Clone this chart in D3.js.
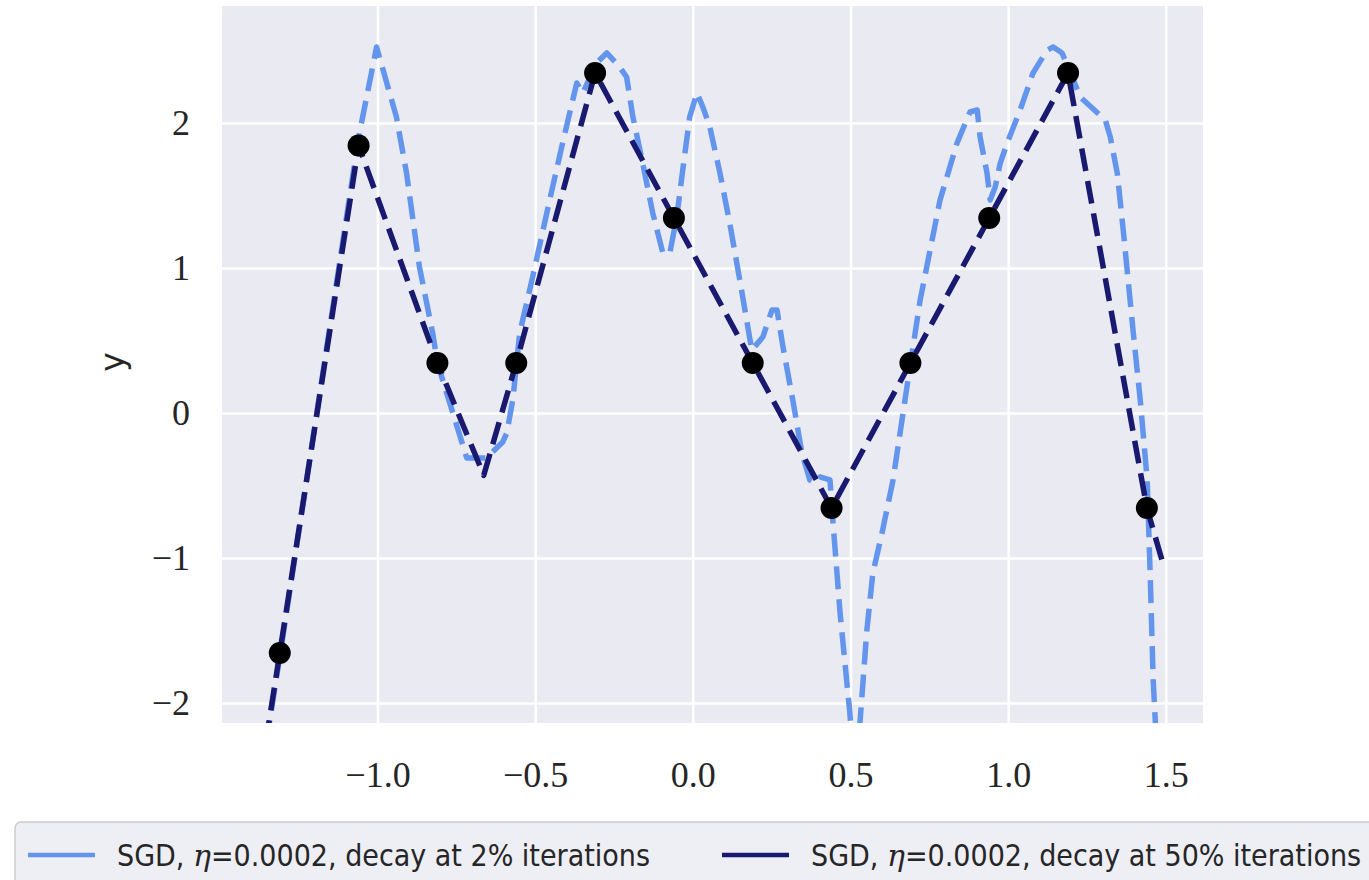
<!DOCTYPE html>
<html>
<head>
<meta charset="utf-8">
<script src="https://cdnjs.cloudflare.com/ajax/libs/d3/7.8.5/d3.min.js"></script>
<style>
  body { margin: 0; background: #fff; }
  .tick text { font-family: "Liberation Serif", "DejaVu Serif", serif; font-size: 36px; fill: #262626; }
  .legend text { font-family: "DejaVu Sans Condensed", "DejaVu Sans", sans-serif; font-stretch: condensed; font-size: 30px; fill: #262626; }
</style>
</head>
<body>
<svg id="chart"></svg>
<script>
// training points
var pointX = [-1.31, -1.06, -0.81, -0.56, -0.31, -0.06, 0.19, 0.44, 0.69, 0.94, 1.19, 1.44];
var pointY = [-1.655, 1.845, 0.345, 0.345, 2.345, 1.345, 0.345, -0.655, 0.345, 1.345, 2.345, -0.655];

// SGD, decay at 2% iterations
var lightX = [-1.5, -1.308, -1.06, -1.003, -0.94, -0.908, -0.867, -0.825, -0.81, -0.717, -0.654, -0.603, -0.59, -0.571,
  -0.549, -0.508, -0.454, -0.413, -0.368, -0.349, -0.305, -0.273, -0.232, -0.21, -0.19, -0.159, -0.127, -0.095,
  -0.073, -0.051, -0.032, -0.01, 0.013, 0.032, 0.054, 0.086, 0.117, 0.149, 0.187, 0.222, 0.251, 0.267, 0.286,
  0.317, 0.346, 0.371, 0.387, 0.403, 0.435, 0.444, 0.467, 0.498, 0.514, 0.53, 0.552, 0.571, 0.6, 0.635, 0.679,
  0.721, 0.784, 0.838, 0.879, 0.902, 0.911, 0.933, 0.943, 0.959, 0.975, 0.997, 1.038, 1.079, 1.124, 1.143, 1.171,
  1.229, 1.308, 1.324, 1.346, 1.365, 1.397, 1.419, 1.441, 1.451, 1.46, 1.467, 1.49];
var lightY = [-4.3, -1.655, 1.9, 2.524, 2.041, 1.655, 1.007, 0.552, 0.345, -0.31, -0.31, -0.2, -0.138, 0.09,
  0.552, 0.938, 1.469, 1.862, 2.276, 2.207, 2.414, 2.483, 2.386, 2.317, 2.041, 1.724, 1.379, 1.103,
  1.103, 1.352, 1.676, 2.041, 2.207, 2.11, 1.972, 1.655, 1.31, 0.917, 0.434, 0.524, 0.71, 0.71, 0.455,
  0.09, -0.276, -0.462, -0.483, -0.441, -0.462, -0.738, -1.379, -2.069, -2.53, -2.138, -1.497, -1.103, -0.828, -0.462, 0.179,
  0.779, 1.469, 1.862, 2.076, 2.09, 1.903, 1.655, 1.469, 1.559, 1.724, 1.862, 2.09, 2.345, 2.503, 2.524, 2.483,
  2.179, 2.021, 1.903, 1.655, 1.262, 0.552, 0.09, -0.462, -1.152, -1.841, -2.138, -3.6];

// SGD, decay at 50% iterations
var darkX = [-1.5, -1.31, -1.06, -0.81, -0.663, -0.56, -0.31, -0.06, 0.19, 0.44, 0.69, 0.94, 1.19, 1.44, 1.49];
var darkY = [-4.3, -1.655, 1.845, 0.345, -0.43, 0.345, 2.345, 1.345, 0.345, -0.655, 0.345, 1.345, 2.345, -0.655, -1.03];

var xTicks = [-1.0, -0.5, 0.0, 0.5, 1.0, 1.5];
var yTicks = [-2, -1, 0, 1, 2];
var legendLabels = ["SGD, ", "=0.0002, decay at 2% iterations", "=0.0002, decay at 50% iterations"];

var width = 1369, height = 880;
var plotLeft = 222, plotRight = 1203, plotTop = 6, plotBottom = 723;

var chart = d3.select("#chart").attr("width", width).attr("height", height);

var xscale = d3.scaleLinear().domain([-1.4932, 1.6180]).range([plotLeft, plotRight]);
var yscale = d3.scaleLinear().domain([2.807, -2.138]).range([plotTop, plotBottom]);

chart.append("rect")
    .attr("x", plotLeft).attr("y", plotTop)
    .attr("width", plotRight - plotLeft).attr("height", plotBottom - plotTop)
    .style("fill", "#eaeaf2");

chart.append("clipPath").attr("id", "clip")
  .append("rect")
    .attr("x", plotLeft).attr("y", plotTop)
    .attr("width", plotRight - plotLeft).attr("height", plotBottom - plotTop);

chart.append("g")
    .attr("transform", "translate(0," + plotBottom + ")")
    .call(d3.axisBottom(xscale).tickValues(xTicks)
      .tickSize(-(plotBottom - plotTop)).tickPadding(38)
      .tickFormat(function(d) { return d3.format(".1f")(d).replace("-", "\u2212"); }));

chart.append("g")
    .attr("transform", "translate(" + plotLeft + ",0)")
    .call(d3.axisLeft(yscale).tickValues(yTicks)
      .tickSize(-(plotRight - plotLeft)).tickPadding(32)
      .tickFormat(function(d) { return String(d).replace("-", "\u2212"); }));

chart.selectAll(".domain").remove();
chart.selectAll(".tick line").style("stroke", "#fff").style("stroke-width", 2.5);

chart.append("text")
    .attr("transform", "translate(124,362) rotate(-90)")
    .attr("text-anchor", "middle")
    .style("font-family", "DejaVu Sans, sans-serif")
    .style("font-size", "33px")
    .style("fill", "#262626")
    .text("y");

function toPoints(xs, ys) {
  return xs.map(function(x, i) { return { x: x, y: ys[i] }; });
}

var line = d3.line()
    .x(function(d) { return xscale(d.x); })
    .y(function(d) { return yscale(d.y); });

var lines = chart.append("g").attr("clip-path", "url(#clip)");

lines.append("path")
    .datum(toPoints(lightX, lightY))
    .attr("d", line)
    .style("fill", "none")
    .style("stroke", "#6495ed")
    .style("stroke-width", 5.5)
    .style("stroke-linejoin", "round")
    .style("stroke-dasharray", "23,10");

lines.append("path")
    .datum(toPoints(darkX, darkY))
    .attr("d", line)
    .style("fill", "none")
    .style("stroke", "#191970")
    .style("stroke-width", 5.5)
    .style("stroke-linejoin", "round")
    .style("stroke-dasharray", "23,10");

chart.append("g").selectAll("circle")
    .data(toPoints(pointX, pointY))
    .enter().append("circle")
    .attr("cx", function(d) { return xscale(d.x); })
    .attr("cy", function(d) { return yscale(d.y); })
    .attr("r", 11)
    .style("fill", "#000");

// legend
var legend = chart.append("g").attr("class", "legend");
legend.append("rect")
    .attr("x", 15).attr("y", 822)
    .attr("width", 1400).attr("height", 100)
    .attr("rx", 6)
    .style("fill", "#eeeef5")
    .style("stroke", "#cccccc")
    .style("stroke-width", 1.5);

var entries = [
  { color: "#6495ed", x: 28, text: legendLabels[1] },
  { color: "#191970", x: 722, text: legendLabels[2] }
];

entries.forEach(function(e) {
  legend.append("line")
      .attr("x1", e.x).attr("x2", e.x + 67)
      .attr("y1", 855).attr("y2", 855)
      .style("stroke", e.color).style("stroke-width", 4.5);
  var t = legend.append("text").attr("x", e.x + 89).attr("y", 866);
  t.append("tspan").text(legendLabels[0]);
  t.append("tspan").style("font-family", "DejaVu Serif, serif").style("font-style", "italic").style("font-stretch", "normal").text("\u03b7");
  t.append("tspan").text(e.text);
});
</script>
</body>
</html>
